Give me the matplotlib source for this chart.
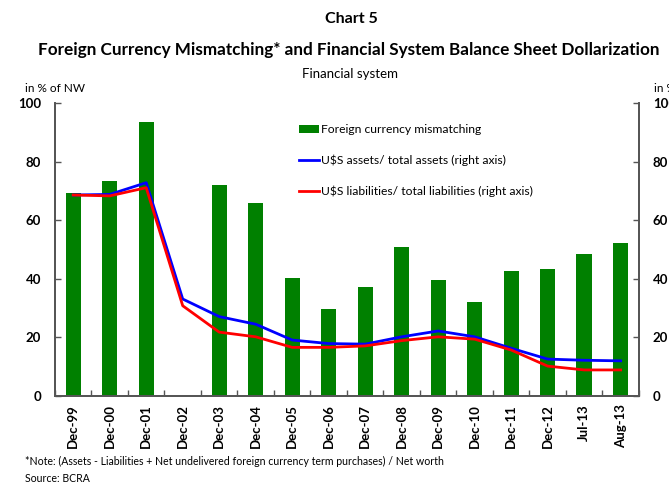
import matplotlib
matplotlib.use("Agg")
import matplotlib.pyplot as plt
import numpy as np

plt.rcParams['font.family'] = ['Lato', 'DejaVu Sans']

categories = ["Dec-99", "Dec-00", "Dec-01", "Dec-02", "Dec-03", "Dec-04", "Dec-05", "Dec-06",
              "Dec-07", "Dec-08", "Dec-09", "Dec-10", "Dec-11", "Dec-12", "Jul-13", "Aug-13"]
mismatching = [69.3, 73.4, 93.5, 0.0, 72.0, 65.9, 40.3, 29.7, 37.2, 50.9, 39.6, 32.1, 42.7, 43.3, 48.5, 52.2]
usd_assets = [68.6, 68.8, 72.8, 33.1, 27.1, 24.5, 19.1, 17.9, 17.7, 20.2, 22.2, 20.2, 16.3, 12.6, 12.2, 12.0]
usd_liabs = [68.6, 68.3, 71.1, 30.8, 21.8, 20.2, 16.6, 16.6, 17.1, 18.9, 20.2, 19.4, 15.7, 10.2, 8.9, 8.9]
yticks = [0, 20, 40, 60, 80, 100]

fig = plt.figure(figsize=(6.69, 4.84), dpi=100)
ax = fig.add_axes([0.0822, 0.1818, 0.8728, 0.6054])
x = np.arange(len(categories))

ax.bar(x, mismatching, width=0.42, color='#008000', label='Foreign currency mismatching', zorder=2)
ax2 = ax.twinx()
ax2.plot(x, usd_assets, color='#0000ff', lw=2, label='U$S assets/ total assets (right axis)')
ax2.plot(x, usd_liabs, color='#ff0000', lw=2, label='U$S liabilities/ total liabilities (right axis)')

for a in (ax, ax2):
    a.set_ylim(0, 100)
    a.set_xlim(-0.5, len(categories) - 0.5)
    a.set_yticks(yticks)
    a.spines['top'].set_visible(False)
    for s in ('left', 'right', 'bottom'):
        a.spines[s].set_color('#555555')
        a.spines[s].set_linewidth(1.3)
    a.tick_params(axis='y', direction='in', length=4, width=1, color='#555555', labelsize=9.5, pad=10)
    for lab in a.get_yticklabels():
        lab.set_fontweight('bold')

ax.set_xticks(x)
ax.set_xticklabels(categories, rotation=90, fontsize=9.5, fontweight='bold')
ax.tick_params(axis='x', which='major', length=0, pad=6)
ax.set_xticks(np.arange(-0.5, len(categories) + 0.5, 1), minor=True)
ax.tick_params(axis='x', which='minor', direction='in', length=4, width=1, color='#555555')
ax2.tick_params(axis='x', which='both', length=0)

h1, l1 = ax.get_legend_handles_labels()
h2, l2 = ax2.get_legend_handles_labels()
leg = ax2.legend(h1 + h2, l1 + l2, loc='upper left', bbox_to_anchor=(0.4, 0.965), frameon=False,
                 fontsize=8.7, labelspacing=1.6, handlelength=1.6, handletextpad=0.2)

fig.text(0.525, 0.96, "Chart 5", ha='center', va='center', fontsize=11.5, fontweight='bold')
fig.text(0.522, 0.896, "Foreign Currency Mismatching* and Financial System Balance Sheet Dollarization",
         ha='center', va='center', fontsize=12.3, fontweight='bold')
fig.text(0.523, 0.848, "Financial system", ha='center', va='center', fontsize=9.5)
fig.text(0.037, 0.818, "in % of NW", ha='left', va='center', fontsize=8.5)
fig.text(0.977, 0.818, "in %", ha='left', va='center', fontsize=8.5)
fig.text(0.037, 0.046, "*Note: (Assets - Liabilities + Net undelivered foreign currency term purchases) / Net worth",
         ha='left', va='center', fontsize=7.6)
fig.text(0.037, 0.011, "Source: BCRA", ha='left', va='center', fontsize=7.6)

fig.savefig("out.png", dpi=100)
